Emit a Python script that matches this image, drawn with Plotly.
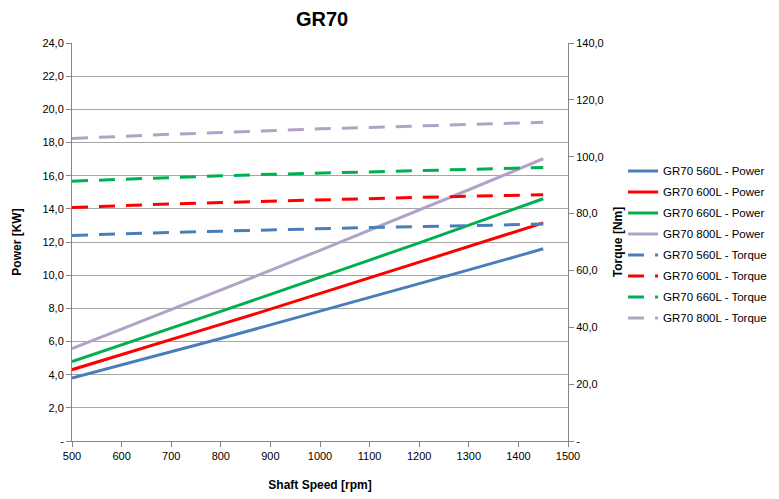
import plotly.graph_objects as go

speed = [500, 600, 700, 800, 900, 1000, 1100, 1200, 1300, 1400, 1450]

power_560 = [3.79, 4.58, 5.38, 6.18, 7.00, 7.82, 8.65, 9.47, 10.32, 11.16, 11.59]
power_600 = [4.30, 5.20, 6.11, 7.03, 7.95, 8.89, 9.83, 10.77, 11.72, 12.67, 13.15]
power_660 = [4.79, 5.79, 6.79, 7.82, 8.84, 9.86, 10.91, 11.95, 13.00, 14.06, 14.61]
power_800 = [5.57, 6.74, 7.91, 9.09, 10.29, 11.50, 12.71, 13.92, 15.15, 16.39, 17.02]

torque_560 = [72.3, 72.9, 73.4, 73.8, 74.3, 74.7, 75.1, 75.4, 75.8, 76.1, 76.3]
torque_600 = [82.1, 82.8, 83.4, 83.9, 84.4, 84.9, 85.3, 85.7, 86.1, 86.4, 86.6]
torque_660 = [91.4, 92.1, 92.7, 93.3, 93.8, 94.2, 94.7, 95.1, 95.5, 95.9, 96.2]
torque_800 = [106.4, 107.2, 107.9, 108.5, 109.2, 109.8, 110.3, 110.8, 111.3, 111.8, 112.1]

power_ticks = [0, 2, 4, 6, 8, 10, 12, 14, 16, 18, 20, 22, 24]
power_labels = ["-", "2,0", "4,0", "6,0", "8,0", "10,0", "12,0", "14,0", "16,0", "18,0", "20,0", "22,0", "24,0"]
torque_ticks = [0, 20, 40, 60, 80, 100, 120, 140]
torque_labels = ["-", "20,0", "40,0", "60,0", "80,0", "100,0", "120,0", "140,0"]
speed_ticks = [500, 600, 700, 800, 900, 1000, 1100, 1200, 1300, 1400, 1500]

BLUE = "#4A7EBB"
RED = "#FF0000"
GREEN = "#00B050"
LAV = "#B3A2C7"
FONT = "Liberation Sans"

fig = go.Figure()
power_series = [("GR70 560L - Power", power_560, BLUE), ("GR70 600L - Power", power_600, RED),
                ("GR70 660L - Power", power_660, GREEN), ("GR70 800L - Power", power_800, LAV)]
torque_series = [("GR70 560L - Torque", torque_560, BLUE), ("GR70 600L - Torque", torque_600, RED),
                 ("GR70 660L - Torque", torque_660, GREEN), ("GR70 800L - Torque", torque_800, LAV)]

for i, (name, vals, col) in enumerate(power_series):
    fig.add_trace(go.Scatter(x=speed, y=vals, name=name, mode="lines", legendgroup=f"p{i}",
                             line=dict(color=col, width=3), yaxis="y"))
for i, (name, vals, col) in enumerate(torque_series):
    fig.add_trace(go.Scatter(x=speed, y=vals, name=name, mode="lines", legendgroup=f"t{i}",
                             line=dict(color=col, width=3, dash="16px,11px"), yaxis="y2"))

fig.update_layout(
    width=779, height=499,
    margin=dict(l=64, r=219, t=35, b=66),
    paper_bgcolor="white", plot_bgcolor="white",
    font=dict(family=FONT, size=11, color="#000000"),
    title=dict(text="<b>GR70</b>", x=(322 - 8) / 779, xanchor="center", y=0.991, yanchor="top",
               font=dict(family=FONT, size=20, color="#000000")),
    showlegend=True,
    legend=dict(x=1.111, xanchor="left", y=0.494, yanchor="middle",
                font=dict(family=FONT, size=11.5), bgcolor="rgba(0,0,0,0)", tracegroupgap=2),
    xaxis=dict(range=[500, 1500], tickvals=speed_ticks, ticks="outside", ticklen=5,
               tickcolor="#868686", showline=True, linecolor="#868686", linewidth=1,
               showgrid=False, zeroline=False, automargin=False,
               title=dict(text="<b>Shaft Speed [rpm]</b>", font=dict(family=FONT, size=12), standoff=19),
               tickfont=dict(family=FONT, size=11)),
    yaxis=dict(range=[0, 24], tickvals=power_ticks, ticktext=power_labels, ticks="outside", ticklen=5,
               tickcolor="#868686", showline=True, linecolor="#868686", linewidth=1,
               showgrid=True, gridcolor="#A6A6A6", gridwidth=1, zeroline=False, automargin=False,
               title=dict(text="<b>Power [KW]</b>", font=dict(family=FONT, size=12), standoff=18),
               tickfont=dict(family=FONT, size=11)),
    yaxis2=dict(range=[0, 140], tickvals=torque_ticks, ticktext=torque_labels, overlaying="y", side="right",
                ticks="outside", ticklen=5, tickcolor="#868686", showline=True, linecolor="#868686",
                linewidth=1, showgrid=False, zeroline=False, automargin=False,
                title=dict(text="<b>Torque [Nm]</b>", font=dict(family=FONT, size=12), standoff=10),
                tickfont=dict(family=FONT, size=11)),
)

fig.write_html("out.html")
